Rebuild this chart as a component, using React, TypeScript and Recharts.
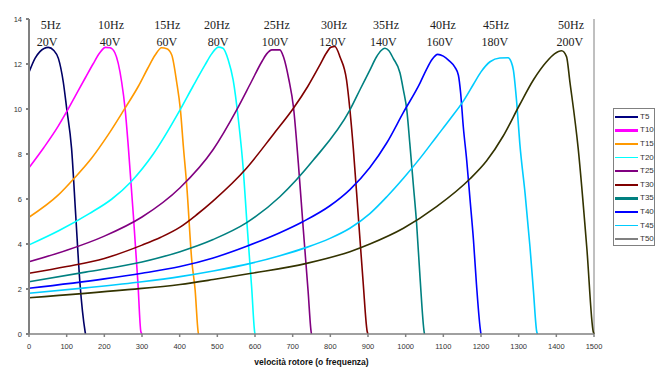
import React from 'react';
import { LineChart, Line, XAxis, YAxis, Legend, ReferenceDot, ReferenceLine } from 'recharts';

type P = [number, number];

const T5: P[] = [[0,11.63],[16,12.25],[29,12.55],[51,12.74],[66,12.6],[78,12.25],[91,11.2],[100,10.03],[113,8.25],[124,5.29],[135,2.32],[149,0.1],[150,0]];
const T10: P[] = [[0,7.39],[40,8.3],[78,9.25],[100,9.88],[122,10.55],[150,11.4],[170,12.0],[188,12.5],[203,12.74],[215,12.72],[228,12.5],[246,11.2],[255,10.03],[264,8.25],[277,5.29],[289,2.32],[297,0.1],[300,0]];
const T15: P[] = [[0,5.19],[78,6.18],[120,6.92],[166,7.81],[210,8.85],[252,9.96],[290,11.0],[315,11.8],[335,12.4],[352,12.72],[366,12.68],[379,12.4],[392,11.2],[402,9.96],[410,8.3],[419,6.55],[432,3.29],[441,1.96],[449,0.1],[450,0]];
const T20: P[] = [[0,3.96],[80,4.6],[160,5.35],[220,6.0],[271,6.77],[330,8.0],[401,9.96],[435,11.0],[467,11.95],[485,12.45],[503,12.75],[515,12.7],[529,12.18],[542,11.29],[556,9.51],[569,7.29],[578,5.07],[587,3.0],[591,2.1],[599,0.1],[600,0]];
const T25: P[] = [[0,3.21],[100,3.72],[200,4.35],[300,5.2],[401,6.5],[489,8.2],[551,9.95],[590,11.2],[618,12.1],[631,12.45],[645,12.63],[666,12.63],[676,12.3],[690,11.3],[702,10.1],[715,7.6],[728,4.7],[741,1.9],[749,0.1],[750,0]];
const T30: P[] = [[0,2.7],[100,3.0],[200,3.36],[300,3.95],[350,4.3],[401,4.75],[445,5.3],[489,5.92],[578,7.38],[649,8.88],[702,10.03],[740,11.0],[772,11.95],[790,12.5],[802,12.75],[812,12.78],[826,12.3],[843,11.29],[852,9.96],[861,8.25],[874,5.29],[887,2.32],[898,0.1],[900,0]];
const T35: P[] = [[0,2.32],[150,2.75],[300,3.2],[401,3.66],[489,4.2],[578,4.95],[666,6.1],[755,7.73],[852,9.96],[880,10.9],[905,11.73],[922,12.3],[935,12.6],[945,12.7],[955,12.6],[967,12.25],[985,11.6],[994,10.84],[1003,9.96],[1011,8.47],[1020,6.7],[1029,4.92],[1038,2.55],[1049,0.1],[1050,0]];
const T40: P[] = [[0,2.03],[200,2.45],[300,2.7],[401,3.0],[489,3.38],[578,3.9],[666,4.5],[728,5.0],[799,5.7],[852,6.42],[905,7.4],[950,8.5],[994,9.85],[1038,11.15],[1055,11.75],[1070,12.2],[1085,12.43],[1100,12.35],[1115,12.15],[1131,11.85],[1140,11.5],[1146,10.7],[1153,9.21],[1162,7.73],[1171,5.96],[1180,4.18],[1188,2.2],[1199,0.1],[1200,0]];
const T45: P[] = [[0,1.81],[150,2.05],[300,2.32],[401,2.55],[489,2.8],[591,3.15],[666,3.48],[737,3.85],[799,4.25],[852,4.7],[905,5.35],[950,6.1],[994,6.92],[1040,7.85],[1082,8.77],[1120,9.6],[1153,10.35],[1180,11.1],[1200,11.65],[1224,12.1],[1250,12.27],[1272,12.28],[1280,12.1],[1286,11.73],[1295,10.25],[1303,8.47],[1317,6.25],[1330,3.88],[1339,1.96],[1348,0.1],[1350,0]];
const T50: P[] = [[0,1.61],[255,1.96],[401,2.2],[489,2.42],[591,2.7],[737,3.14],[852,3.66],[905,4.0],[994,4.7],[1082,5.66],[1171,6.9],[1215,7.7],[1259,8.8],[1303,10.2],[1339,11.29],[1374,12.1],[1395,12.45],[1414,12.59],[1427,12.33],[1436,11.21],[1458,8.25],[1481,3.81],[1498,0.1],[1500,0]];

const seriesNames = ['T5','T10','T15','T20','T25','T30','T35','T40','T45','T50'];
const seriesData = [T5, T10, T15, T20, T25, T30, T35, T40, T45, T50];
const lineColors = ['#000066','#FF00FF','#FF9900','#00FFFF','#800080','#800000','#008080','#0000FF','#00CCFF','#333300'];
const legendColors = ['#000080','#FF00FF','#FF9900','#00FFFF','#800080','#800000','#008080','#0000FF','#00CCFF','#808080'];
const legendWidths = [2, 2, 1, 1, 2, 1, 2, 2, 1, 2];

const freqLabels = ['5Hz','10Hz','15Hz','20Hz','25Hz','30Hz','35Hz','40Hz','45Hz','50Hz'];
const voltLabels = ['20V','40V','60V','80V','100V','120V','140V','160V','180V','200V'];
const freqLabelX = [58, 218, 367, 499, 658, 810, 948, 1099, 1240, 1439];
const voltLabelX = [48, 215, 366, 502, 653, 806, 941, 1091, 1237, 1436];

const xTicks = [0,100,200,300,400,500,600,700,800,900,1000,1100,1200,1300,1400,1500];
const yTicks = [0,2,4,6,8,10,12,14];

const toObjs = (arr: P[]) => arr.map(([x, y]) => ({ x, y }));

const LegendBox = () => (
  <div style={{ border: '1px solid #808080', width: 40, height: 135, boxSizing: 'content-box', paddingTop: 1, background: '#fff' }}>
    {seriesNames.map((n, i) => (
      <div key={n} style={{ height: 13.6, display: 'flex', alignItems: 'center', position: 'relative' }}>
        <div style={{ marginLeft: 1, width: 23, height: legendWidths[i] + 0.5, background: legendColors[i] }} />
        <span style={{ marginLeft: 2, fontFamily: '"Liberation Sans", Arial, sans-serif', fontSize: 8, color: '#333', lineHeight: '10px' }}>{n}</span>
      </div>
    ))}
  </div>
);

export default function App() {
  return (
    <div style={{ width: 647, height: 366 }}>
      <LineChart width={647} height={366} margin={{ top: 11, right: 61, bottom: 15, left: 5 }}>
        <XAxis
          type="number"
          dataKey="x"
          domain={[0, 1500]}
          ticks={xTicks}
          interval={0}
          height={25}
          stroke="#808080"
          strokeWidth={1.5}
          tickSize={3}
          tickMargin={7}
          tick={{ fontSize: 7.5, fill: '#333', fontFamily: '"Liberation Sans", Arial, sans-serif' }}
          label={{ value: 'velocità rotore (o frequenza)', position: 'insideBottom', offset: -6, style: { fontSize: 8.5, fontWeight: 'bold', fill: '#111', fontFamily: '"Liberation Sans", Arial, sans-serif' } }}
        />
        <YAxis
          type="number"
          domain={[0, 14]}
          ticks={yTicks}
          interval={0}
          width={16}
          stroke="#808080"
          strokeWidth={2}
          tickSize={3}
          tickMargin={4}
          tick={{ fontSize: 7.5, fill: '#333', fontFamily: '"Liberation Sans", Arial, sans-serif' }}
        />
        <ReferenceLine x={1500} stroke="#808080" strokeWidth={1} />
        {seriesData.map((d, i) => (
          <Line
            key={seriesNames[i]}
            data={toObjs(d)}
            dataKey="y"
            name={seriesNames[i]}
            type="monotone"
            stroke={lineColors[i]}
            strokeWidth={1.6}
            dot={false}
            activeDot={false}
            isAnimationActive={false}
          />
        ))}
        {freqLabels.map((t, i) => (
          <ReferenceDot
            key={'f' + t}
            x={freqLabelX[i]}
            y={13.56}
            r={0}
            ifOverflow="visible"
            shape={(p: any) => (
              <text x={p.cx} y={p.cy} textAnchor="middle" fontFamily='"Liberation Serif", "Times New Roman", serif' fontSize={12} fill="#222">{t}</text>
            )}
          />
        ))}
        {voltLabels.map((t, i) => (
          <ReferenceDot
            key={'v' + t}
            x={voltLabelX[i]}
            y={12.8}
            r={0}
            ifOverflow="visible"
            shape={(p: any) => (
              <text x={p.cx} y={p.cy} textAnchor="middle" fontFamily='"Liberation Serif", "Times New Roman", serif' fontSize={12} fill="#222">{t}</text>
            )}
          />
        ))}
        <Legend
          layout="vertical"
          align="center"
          verticalAlign="middle"
          content={() => <LegendBox />}
          wrapperStyle={{ left: 605, top: 100, width: 'auto' }}
        />
      </LineChart>
    </div>
  );
}
